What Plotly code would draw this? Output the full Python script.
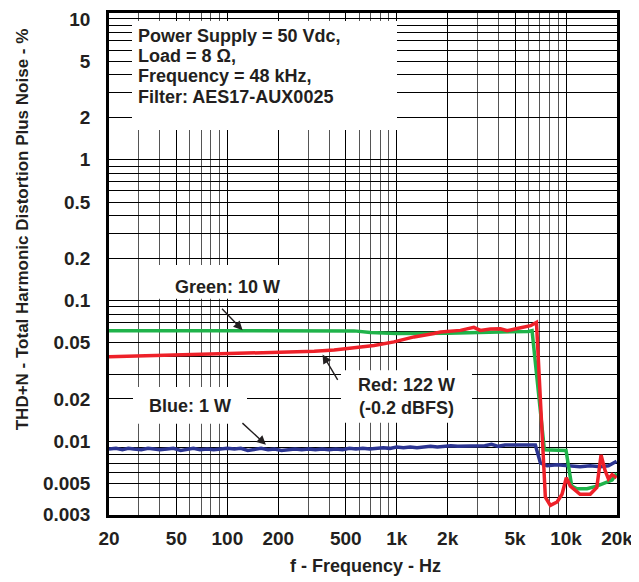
import math
import plotly.graph_objects as go

# ---------------- data ----------------
green_f = [20, 50, 100, 200, 400, 560, 700, 900, 1000, 2000, 3000, 4000, 5000, 6000, 6300,
           7450, 10000, 10800, 11600, 13300, 15200, 17400, 18700, 19900]
green_v = [0.0610, 0.0610, 0.0610, 0.0610, 0.0610, 0.0608, 0.0592, 0.0584, 0.0582, 0.0585, 0.0590,
           0.0595, 0.0598, 0.0603, 0.0610,
           0.0087, 0.0086, 0.0048, 0.0046, 0.0046, 0.0048, 0.0051, 0.0053, 0.0059]

red_f = [20, 45, 110, 207, 326, 427, 560, 735, 964, 1265, 1660, 1817, 2380, 2855, 3120, 3580,
         4100, 4500, 5150, 6170, 6690,
         7550, 8080, 8860, 9470, 10040, 10600, 12100, 13900, 15200, 16100, 17000, 17800, 18700, 19900]
red_v = [0.0399, 0.0408, 0.0417, 0.0426, 0.0435, 0.0444, 0.0459, 0.0479, 0.0508, 0.0551, 0.0582,
         0.0597, 0.0613, 0.0644, 0.0613, 0.0627, 0.0630, 0.0610, 0.0633, 0.0662, 0.0698,
         0.0040, 0.0035, 0.0037, 0.0042, 0.0055, 0.0048, 0.0042, 0.0042, 0.0047, 0.0080,
         0.0062, 0.0054, 0.0058, 0.0055]

blue_f = [20, 22, 24, 26, 28, 31, 34, 37, 40, 44, 48, 53, 58, 63, 69, 76, 83, 91, 100, 110,
          120, 132, 145, 158, 174, 190, 209, 229, 251, 275, 302, 331, 363, 398, 437, 479, 525,
          575, 631, 692, 759, 832, 912, 1000, 1096, 1202, 1318, 1445, 1585, 1738, 1905, 2089,
          2291, 2512, 2754, 3020, 3311, 3631, 3981, 4365, 4786, 5248, 5754, 6310, 6590,
          7060, 7730, 8860, 10100, 12100, 13900, 15900, 17800, 19900]
blue_v = [0.0088, 0.0089, 0.0087, 0.0089, 0.0088, 0.0087, 0.0089, 0.0088, 0.0087, 0.0088,
          0.0089, 0.0086, 0.0088, 0.0089, 0.0087, 0.0088, 0.0087, 0.0088, 0.0089, 0.0088,
          0.0089, 0.0086, 0.0088, 0.0089, 0.0087, 0.0088, 0.0086, 0.0087, 0.0088, 0.0087,
          0.0088, 0.0087, 0.0088, 0.0087, 0.0088, 0.0087, 0.0089, 0.0088, 0.0089, 0.0088,
          0.0089, 0.0090, 0.0089, 0.0091, 0.0090, 0.0091, 0.0090, 0.0091, 0.0092, 0.0091,
          0.0092, 0.0093, 0.0092, 0.0092, 0.0093, 0.0092, 0.0093, 0.0095, 0.0092, 0.0094,
          0.0094, 0.0095, 0.0095, 0.0095, 0.0094,
          0.0070, 0.0067, 0.0068, 0.0067, 0.0066, 0.0067, 0.0066, 0.0067, 0.0072]

x_tickvals = [20, 50, 100, 200, 500, 1000, 2000, 5000, 10000, 20000]
x_ticktext = ["20", "50", "100", "200", "500", "1k", "2k", "5k", "10k", "20k"]
y_tickvals = [0.003, 0.005, 0.01, 0.02, 0.05, 0.1, 0.2, 0.5, 1, 2, 5, 10]
y_ticktext = ["0.003", "0.005", "0.01", "0.02", "0.05", "0.1", "0.2", "0.5", "1", "2", "5", "10"]

# minor log grid positions
x_minor = [m * d for d in (10, 100, 1000) for m in range(2, 10) if m * d not in x_tickvals and 20 <= m * d <= 20000]
y_minor = [round(m * d, 6) for d in (0.001, 0.01, 0.1, 1) for m in range(2, 10)
           if round(m * d, 6) not in y_tickvals and 0.003 <= m * d <= 10]

FONT = "Arial, Liberation Sans, sans-serif"

# ---------------- layout geometry ----------------
# page body has an 8 px margin; reference pixel coordinates are shifted by OFF
OFF = 8
W, H = 639 - OFF, 582 - OFF
PLOT_L, PLOT_R, PLOT_T, PLOT_B = 109, 617, 9, 515      # plot frame in reference pixels
L, R, T, B = PLOT_L - OFF, W - (PLOT_R - OFF), PLOT_T - OFF, H - (PLOT_B - OFF)
PW, PH = PLOT_R - PLOT_L, PLOT_B - PLOT_T


def px(xp):
    return (xp - PLOT_L) / PW


def py(yp):
    return (PLOT_B - yp) / PH


fig = go.Figure()
fig.add_trace(go.Scatter(x=blue_f, y=blue_v, mode="lines", line=dict(color="#2b3491", width=3.5),
                         showlegend=False, hoverinfo="skip"))
fig.add_trace(go.Scatter(x=green_f, y=green_v, mode="lines", line=dict(color="#1fb34a", width=3.5),
                         showlegend=False, hoverinfo="skip"))
fig.add_trace(go.Scatter(x=red_f, y=red_v, mode="lines", line=dict(color="#ee2129", width=3.5),
                         showlegend=False, hoverinfo="skip"))

# white label boxes (reference pixel rectangles)
boxes = [(132, 17, 397, 127), (152, 263, 300, 297), (341, 369, 472, 422), (133, 386, 247, 423)]
shapes = []
for x0, y0, x1, y1 in boxes:
    shapes.append(dict(type="rect", xref="paper", yref="paper", x0=px(x0), x1=px(x1),
                       y0=py(y1), y1=py(y0), fillcolor="white", line=dict(width=0), layer="above"))

tf = dict(family=FONT, size=18, color="#231f20", weight="bold")
ann = []
for text, yy in [("Power Supply = 50 Vdc,", 32), ("Load = 8 Ω,", 52.5),
                 ("Frequency = 48 kHz,", 73), ("Filter: AES17-AUX0025", 93.5)]:
    ann.append(dict(text=text, xref="paper", yref="paper", x=px(136), y=py(yy), xanchor="left",
                    yanchor="middle", showarrow=False, font=tf))
for text, xx, yy in [("Green: 10 W", 227, 285), ("Red: 122 W", 406, 384),
                     ("(-0.2 dBFS)", 406, 407), ("Blue: 1 W", 190, 405)]:
    ann.append(dict(text=text, xref="paper", yref="paper", x=px(xx), y=py(yy), xanchor="center",
                    yanchor="middle", showarrow=False, font=tf))

# arrows (tip on the curves, tail offsets in pixels)
for f, v, ax, ay in [(123, 0.0615, -22, -23), (365, 0.0414, 16, 27), (169, 0.00944, -25, -23)]:
    ann.append(dict(text="", x=math.log10(f), y=math.log10(v), xref="x", yref="y", showarrow=True,
                    ax=ax, ay=ay, arrowhead=2, arrowsize=1.3, arrowwidth=1.4, arrowcolor="#231f20"))

# axis titles
ann.append(dict(text="f - Frequency - Hz", xref="paper", yref="paper", x=px(365), y=py(566),
                xanchor="center", yanchor="middle", showarrow=False,
                font=dict(family=FONT, size=18, color="#231f20", weight="bold")))
ann.append(dict(text="THD+N - Total Harmonic Distortion Plus Noise - %", xref="paper", yref="paper",
                x=px(22), y=py(227), xanchor="center", yanchor="middle", textangle=-90, showarrow=False,
                font=dict(family=FONT, size=17, color="#231f20", weight="bold")))

fig.update_layout(
    width=W, height=H, margin=dict(l=L, r=R, t=T, b=B, pad=0),
    paper_bgcolor="white", plot_bgcolor="white",
    shapes=shapes, annotations=ann,
    xaxis=dict(type="log", range=[math.log10(20), math.log10(20000)],
               tickmode="array", tickvals=x_tickvals, ticktext=x_ticktext,
               tickfont=dict(family=FONT, size=19, color="#231f20", weight="bold"),
               showgrid=True, gridcolor="#000000", gridwidth=1,
               minor=dict(tickmode="array", tickvals=x_minor, showgrid=True, gridcolor="#555555", gridwidth=1),
               showline=True, linecolor="#000000", linewidth=2.5, mirror=True,
               ticks="", zeroline=False, ticklabelstandoff=4, ticklabeloverflow="allow"),
    yaxis=dict(type="log", range=[-2.524, 1.042],
               tickmode="array", tickvals=y_tickvals, ticktext=y_ticktext,
               tickfont=dict(family=FONT, size=19, color="#231f20", weight="bold"),
               showgrid=True, gridcolor="#000000", gridwidth=1,
               minor=dict(tickmode="array", tickvals=y_minor, showgrid=True, gridcolor="#000000", gridwidth=1),
               showline=True, linecolor="#000000", linewidth=2.5, mirror=True,
               ticks="", zeroline=False, ticklabelstandoff=12, ticklabeloverflow="allow"),
)

fig.write_html("out.html")
